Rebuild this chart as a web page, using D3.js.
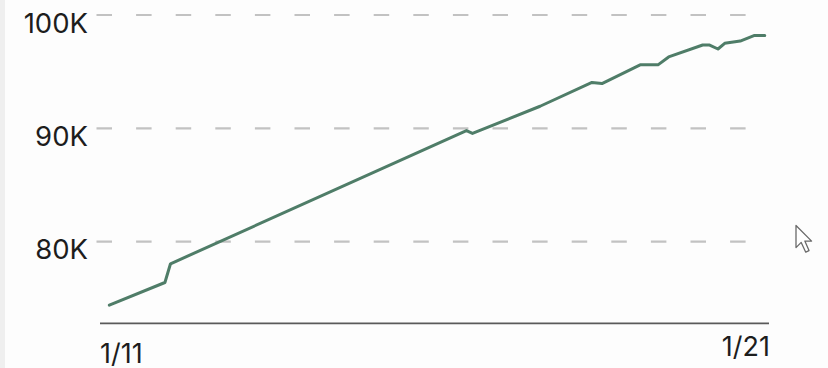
<!DOCTYPE html>
<html>
<head>
<meta charset="utf-8">
<script src="https://cdn.jsdelivr.net/npm/d3@7"></script>
<style>
  html, body { margin: 0; padding: 0; background: #fdfdfd; }
  svg { display: block; }
  text { font-family: Inter, "Noto Sans", sans-serif; fill: #1d1d1d; }
</style>
</head>
<body>
<svg id="chart" width="828" height="368"></svg>
<script>
// Readings over ten days (values in thousands)
const times = [
  "01/11 03:00", "01/11 23:00", "01/12 01:00", "01/16 11:30", "01/16 13:40",
  "01/17 14:00", "01/18 08:40", "01/18 12:15", "01/19 02:00", "01/19 08:25",
  "01/19 12:15", "01/20 00:30", "01/20 03:00", "01/20 06:00", "01/20 08:25",
  "01/20 14:00", "01/20 19:10", "01/20 22:50"
];
const values = [
  74.4, 76.4, 78.05, 89.8, 89.55,
  91.95, 94.05, 93.95, 95.6, 95.6,
  96.3, 97.35, 97.35, 97.0, 97.5,
  97.7, 98.2, 98.2
];
const yTicks = [80, 90, 100];
const yTickLabels = ["80K", "90K", "100K"];
const xTicks = ["01/11 00:00", "01/21 00:00"];
const xTickLabels = ["1/11", "1/21"];

const parse = d3.timeParse("%m/%d %H:%M");
const data = times.map((t, i) => ({ t: parse(t), v: values[i] }));

const svg = d3.select("#chart");

// thin shaded strip on the left edge
svg.append("rect").attr("x", 0).attr("y", 0).attr("width", 5).attr("height", 368)
  .attr("fill", "#efefef");

const plotLeft = 101, plotRight = 768, plotTop = 15, plotBottom = 323.3;

const x = d3.scaleTime()
  .domain([parse(xTicks[0]), parse(xTicks[1])])
  .range([plotLeft, plotRight]);

const y = d3.scaleLinear()
  .domain([72.8, 100])
  .range([plotBottom, plotTop]);

// dashed horizontal grid
svg.append("g")
  .selectAll("line")
  .data(yTicks)
  .join("line")
  .attr("x1", 96).attr("x2", plotRight)
  .attr("y1", d => y(d)).attr("y2", d => y(d))
  .attr("stroke", "#c2c2c2")
  .attr("stroke-width", 2.2)
  .attr("stroke-dasharray", "15.5 24.1")
  .attr("stroke-dashoffset", -0.5);

// value labels
svg.append("g")
  .selectAll("text")
  .data(yTicks)
  .join("text")
  .attr("x", 88)
  .attr("y", d => y(d) + 17.5)
  .attr("text-anchor", "end")
  .attr("font-size", 27.5)
  .text((d, i) => yTickLabels[i]);

// baseline axis
const xAxis = d3.axisBottom(x).tickValues([]).tickSizeOuter(0);
const axisG = svg.append("g").attr("transform", `translate(0,${plotBottom})`).call(xAxis);
axisG.select(".domain").attr("stroke", "#5a5a5a").attr("stroke-width", 1.7)
  .attr("d", `M${plotLeft - 1},0H${plotRight + 1}`);

// date labels at both ends
svg.append("text")
  .attr("x", x(parse(xTicks[0])) - 1)
  .attr("y", 362.5)
  .attr("text-anchor", "start")
  .attr("font-size", 27)
  .text(xTickLabels[0]);
svg.append("text")
  .attr("x", x(parse(xTicks[1])) + 2)
  .attr("y", 355.5)
  .attr("text-anchor", "end")
  .attr("font-size", 27)
  .text(xTickLabels[1]);

// the series line
const line = d3.line().x(d => x(d.t)).y(d => y(d.v));
svg.append("path")
  .datum(data)
  .attr("d", line)
  .attr("fill", "none")
  .attr("stroke", "#4f7d68")
  .attr("stroke-width", 3)
  .attr("stroke-linejoin", "round")
  .attr("stroke-linecap", "round");

// mouse pointer glyph
svg.append("path")
  .attr("transform", "translate(796,225.5) scale(1.3)")
  .attr("d", "M0,0 L0,17 L4,13 L7.5,20.5 L10,19.3 L6.8,12 L12,12 Z")
  .attr("fill", "#fff")
  .attr("stroke", "#6a6a6a")
  .attr("stroke-width", 1)
  .attr("stroke-linejoin", "round");
</script>
</body>
</html>
